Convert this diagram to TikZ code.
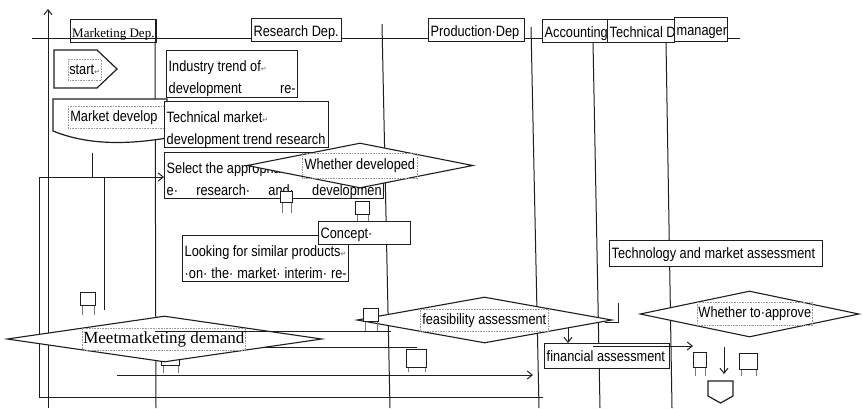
\documentclass[tikz,border=0pt]{standalone}
\usepackage{fontspec}
\setmainfont{Liberation Serif}
\newfontfamily\boxfont[FakeStretch=0.85]{Liberation Sans}
\newfontfamily\markfont{DejaVu Sans}
\usetikzlibrary{arrows.meta,shapes.geometric}
\definecolor{ink}{HTML}{1E1E1E}
\definecolor{framegray}{HTML}{9A9A9A}
% paragraph mark shown after some lines
\newcommand\retmark{{\markfont\fontsize{7}{7}\selectfont\textcolor{ink!70}{↵}}}
% one line of box text with a fixed width
\newcommand\bline[2]{\makebox[#1pt][l]{#2}}
% two-line box text: width, height, first line, second line
\newcommand\twolines[4]{\parbox[c][#2pt][t]{#1pt}{\rule{0pt}{19pt}\bline{#1}{#3}\\\bline{#1}{#4}}}
% small square with two legs: name, x, y, width, height, leg length
\newcommand\pinbox[6]{%
  \node[pinsq, minimum width=#4pt, minimum height=#5pt] (#1) at (#2,#3) {};
  \draw[pinleg] ([xshift=2pt]#1.south west) -- ++(0,-#6pt)
                ([xshift=-2pt]#1.south east) -- ++(0,-#6pt);
}
\tikzset{
  lane/.style={draw=ink, line width=1pt},
  link/.style={draw=ink, line width=1pt},
  arr/.style={link, -{Straight Barb[length=5pt,width=8pt,line width=1pt]}},
  box/.style={draw=ink, line width=1.4pt, fill=white, anchor=north west, text=black,
    inner sep=2pt, font=\boxfont\fontsize{15}{22}\selectfont},
  head/.style={box, text height=15pt, text depth=3pt, inner xsep=1.5pt, inner ysep=2.5pt},
  tframe/.style={draw=framegray, densely dotted, line width=0.6pt, anchor=north west,
    inner sep=1pt, text=black, font=\boxfont\fontsize{15}{17}\selectfont},
  pinsq/.style={draw=ink, line width=1pt, fill=white, anchor=north west, inner sep=0pt},
  pinleg/.style={draw=ink!60, line width=0.7pt},
  decision/.style={shape=diamond, draw=ink, line width=1.1pt, fill=white, inner sep=0pt},
  shapeline/.style={draw=ink, line width=1.2pt, fill=white},
}
\begin{document}
\begin{tikzpicture}[x=1pt,y=-1pt]
\fill[white] (0,0) rectangle (862,408);
\useasboundingbox (0,0) rectangle (862,408);

% axis and header rule
\draw[arr] (48,408) -- (48,9);
\draw[lane] (32,38) -- (740,38);

% swimlane separators
\draw[lane] (155,42) -- (156,408);
\draw[lane] (382,24) -- (390,408);
\draw[lane] (531,27) -- (539,408);
\draw[lane] (593,42) -- (600,408);
\draw[lane] (666,42) -- (672,408);

% department headers
\node[head, fill=none, minimum width=85pt, minimum height=23pt,
      font=\fontsize{13}{14}\selectfont] (hmkt) at (70,19) {Marketing Dep.};
\node[head, minimum width=90pt, minimum height=23pt] (hres) at (251,18) {\bline{86}{Research Dep.}};
\node[head, minimum width=96pt, minimum height=23pt] (hpro) at (428,18) {\bline{92}{Production·Dep}};
\begin{scope}
  \clip (540,15) rectangle (607.4,45);
  \node[head, minimum width=65pt, minimum height=23pt] (hacc) at (542,19) {\bline{61}{Accounting}};
\end{scope}
\node[head, minimum width=67pt, minimum height=23pt] (htec) at (607,19) {\bline{63}{Technical D}};
\node[head, minimum width=53pt, minimum height=24pt] (hman) at (674,17) {\bline{49}{manager}};

% loop on the left
\coordinate (loopTop) at (92,153);
\coordinate (loopJoin) at (92,177);
\coordinate (loopLeft) at (39,177);
\coordinate (loopLow) at (39,397);
\coordinate (loopEnd) at (543,397);
\coordinate (dropTop) at (104,177);
\coordinate (dropEnd) at (104,310);
\draw[link] (loopTop) -- (loopJoin);
\draw[link] (loopLeft) -- (loopLow) -- (loopEnd);
\draw[link] (dropTop) -- (dropEnd);

% start terminal
\path[shapeline] (54,50) -- (97,50) -- (117,69) -- (97,88) -- (54,88) -- cycle;
\node[tframe, minimum width=30pt, minimum height=21pt] (start) at (68,59) {start\retmark};

% market development document
\path[shapeline] (53,99) -- (167,99) -- (167,138)
  .. controls (130,144) and (90,146) .. (53,131) -- cycle;
\node[tframe, minimum width=98pt, minimum height=22pt] (market) at (68,106)
  {\bline{94}{Market develop}};

% research department boxes
\node[box, minimum width=131pt, minimum height=47pt] (industry) at (166,50)
  {\twolines{127}{43}{Industry trend of\retmark}{development\hfill re-}};
\node[box, minimum width=164pt, minimum height=46pt] (techmkt) at (164,101)
  {\twolines{160}{42}{Technical market\retmark}{development trend research}};
\node[box, minimum width=219pt, minimum height=46pt] (select) at (164,152)
  {\twolines{215}{42}{Select the appropriat}{e·\hfill research·\hfill and·\hfill developmen}};
\draw[arr] (loopLeft) -- (select.west |- loopLeft);

\pinbox{pinA}{280}{191}{12}{11}{10}

\node[decision, minimum width=226pt, minimum height=45pt] (whetherdev) at (360,165.5) {};
\node[tframe, minimum width=115pt, minimum height=25pt] (whetherdevtext) at (302,153) {Whether developed};

\pinbox{pinB}{355}{201}{14}{13}{7}

\node[box, minimum width=166pt, minimum height=46pt] (similar) at (182,235)
  {\twolines{162}{42}{Looking for similar products\retmark}{·on·\hfill the·\hfill market·\hfill interim·\hfill re-}};
\node[box, minimum width=92pt, minimum height=23pt, text height=14pt, text depth=3pt] (concept) at (318,221)
  {\bline{88}{Concept·}};

\node[box, minimum width=213pt, minimum height=26pt, text height=14pt, text depth=4pt] (techassess) at (609,240)
  {\bline{209}{Technology and market assessment}};

% lower area
\pinbox{pinC}{80}{292}{15}{13}{9}
\pinbox{pinD}{161}{352}{18}{13}{7}

\node[decision, minimum width=315pt, minimum height=46pt] (meetdemand) at (164.5,339) {};
\node[tframe, minimum width=158pt, minimum height=22pt, font=\fontsize{17}{19}\selectfont]
  (meetdemandtext) at (82,328) {Meetmatketing demand};

\coordinate (midA) at (155,331);
\coordinate (midAend) at (391,331);
\coordinate (midB) at (264,347);
\coordinate (midBend) at (417,347);
\coordinate (lowA) at (117,375);
\coordinate (lowAend) at (533,375);
\draw[link] (midA) -- (midAend);
\draw[link] (midB) -- (midBend);
\draw[arr] (lowA) -- (lowAend);

\node[decision, minimum width=255pt, minimum height=46pt] (feasibility) at (484.5,320) {};
\node[tframe, minimum width=128pt, minimum height=22pt] (feasibilitytext) at (420,309) {feasibility assessment};
\pinbox{pinE}{363}{308}{15}{13}{9}

\node[decision, minimum width=219pt, minimum height=46pt] (approve) at (749.5,314) {};
\node[tframe, minimum width=115pt, minimum height=23pt] (approvetext) at (697,302) {Whether to·approve};

\coordinate (hookTop) at (618,303);
\coordinate (hookCorner) at (618,322);
\coordinate (hookEnd) at (605,322);
\draw[link] (hookTop) -- (hookCorner) -- (hookEnd);

\node[box, minimum width=125pt, minimum height=25pt, text height=14pt, text depth=4pt] (financial) at (544,343)
  {\bline{121}{financial assessment}};

\coordinate (feasOut) at (568,328);
\draw[arr] (feasOut) -- (feasOut |- financial.north);

\pinbox{pinF}{406}{349}{20}{18}{4}
\pinbox{pinG}{693}{352}{13}{15}{8}
\pinbox{pinH}{739}{353}{18}{16}{6}

\coordinate (finOut) at (593,346);
\draw[arr] (finOut) -- (pinG.north west |- finOut);

% off-page connector
\path[shapeline] (708,381) -- (733,381) -- (733,396) -- (720.5,403) -- (708,396) -- cycle;
\coordinate (offpage) at (720.5,381);
\coordinate (downStart) at (724,347);
\draw[arr] (downStart) -- (downStart |- 0,374);
\end{tikzpicture}
\end{document}
